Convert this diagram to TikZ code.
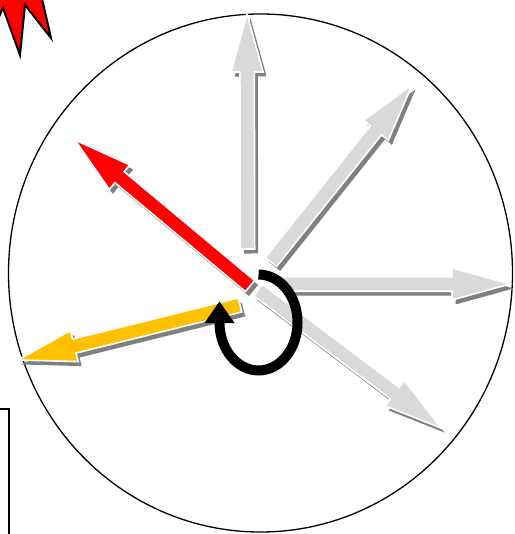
\documentclass[tikz,border=0pt]{standalone}
\usetikzlibrary{calc}
\definecolor{arrowGray}{HTML}{D9D9D9}
\definecolor{shadeGray}{HTML}{808080}
\definecolor{arrowRed}{HTML}{FF0000}
\definecolor{arrowGold}{HTML}{FFC000}

% outline of a block arrow, tail #1 to tip #2
\newcommand{\arrowpath}[2]{($(#1)!7.2pt!90:(#2)$) -- ($(#1-b)!7.2pt!90:(#2)$)
  -- ($(#1-b)!16pt!90:(#2)$) -- (#2) -- ($(#1-b)!16pt!-90:(#2)$)
  -- ($(#1-b)!7.2pt!-90:(#2)$) -- ($(#1)!7.2pt!-90:(#2)$) -- cycle}
% block arrow with drop shadow, filled with #3
\newcommand{\bigarrow}[3]{%
  \coordinate (#1-b) at ($(#2)!58pt!(#1)$);
  \fill[shadow] \arrowpath{#1}{#2};
  \filldraw[fill=#3, blockline] \arrowpath{#1}{#2};
}

\begin{document}
\begin{tikzpicture}[x=1pt, y=-1pt,
    rim/.style={draw=black, line width=1.3pt},
    shadow/.style={fill=shadeGray, transform canvas={shift={(3.5pt,-4.5pt)}}},
    blockline/.style={draw=white, line width=1.6pt},
    spin/.style={draw=black, line width=10pt},
  ]
  \useasboundingbox (0,0) rectangle (514,534);

  % burst in the corner and box at the left
  \filldraw[fill=arrowRed, draw=black, line width=2pt, line join=miter]
    (-8,32) -- (3,8) -- (20,55) -- (25,5) -- (51,38) -- (40,-10) -- (-8,-10) -- cycle;
  \draw[rim] (-10,409) rectangle (9,545);

  % the dial
  \draw[rim] (260.5,273) ellipse [x radius=252, y radius=259];

  % tails and tips
  \coordinate (up)     at (247.5,249);  \coordinate (upTip)    at (247,14);
  \coordinate (ne)     at (271,262);    \coordinate (neTip)    at (412,85);
  \coordinate (east)   at (282,284);    \coordinate (eastTip)  at (510,284);
  \coordinate (se)     at (258,290);    \coordinate (seTip)    at (441,428);
  \coordinate (nw)     at (250,286);    \coordinate (nwTip)    at (75,140);
  \coordinate (sw)     at (240,305);    \coordinate (swTip)    at (18,360);

  \bigarrow{up}{upTip}{arrowGray}
  \bigarrow{ne}{neTip}{arrowGray}
  \bigarrow{east}{eastTip}{arrowGray}
  \bigarrow{se}{seTip}{arrowGray}
  \bigarrow{nw}{nwTip}{arrowRed}
  \bigarrow{sw}{swTip}{arrowGold}

  % turning arrow
  \coordinate (spinStart) at (258.5,274.5);
  \coordinate (spinEnd)   at (219.5,322.5);
  \draw[spin] (spinStart) arc[start angle=-90, end angle=182, x radius=39, y radius=48];
  \fill ($(spinEnd)+(-15,0.5)$) -- ($(spinEnd)+(0,-21)$) -- ($(spinEnd)+(15,0.5)$) -- cycle;
\end{tikzpicture}
\end{document}
